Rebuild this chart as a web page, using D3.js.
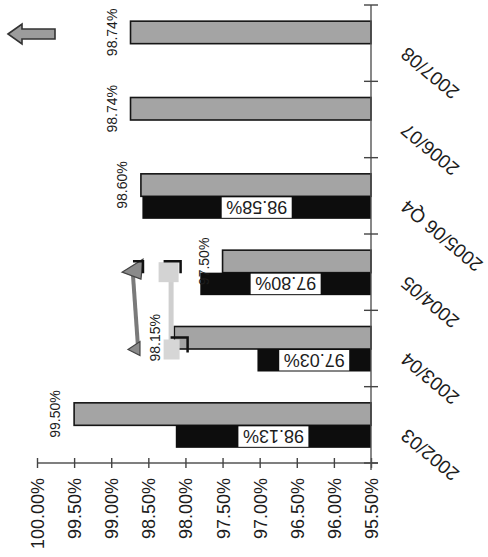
<!DOCTYPE html>
<html>
<head>
<meta charset="utf-8">
<script src="https://cdn.jsdelivr.net/npm/d3@7/dist/d3.min.js"></script>
<style>
body{margin:0;background:#fff;}
text{font-family:"Liberation Sans",Arial,sans-serif;fill:#1c1c1c;}
</style>
</head>
<body>
<div id="chart"></div>
<script>
// data (bottom category first)
var categories = ["2002/03","2003/04","2004/05","2005/06 Q4","2006/07","2007/08"];
var greyValues = [99.50, 98.15, 97.50, 98.60, 98.74, 98.74];
var greyLabels = ["99.50%","98.15%","97.50%","98.60%","98.74%","98.74%"];
var blackValues = [98.13, 97.03, 97.80, 98.58, null, null];
var blackLabels = ["98.13%","97.03%","97.80%","98.58%","",""];
var tickValues = [100, 99.5, 99, 98.5, 98, 97.5, 97, 96.5, 96, 95.5];
var tickLabels = ["100.00%","99.50%","99.00%","98.50%","98.00%","97.50%","97.00%","96.50%","96.00%","95.50%"];

function init(){
	var w = 488;
	var h = 557;

	var svg = d3.select("#chart")
				.append("svg")
				.attr("width",w)
				.attr("height",h);

	var x = d3.scaleLinear().domain([95.5,100]).range([371,37]);
	var y = d3.scaleBand().domain(categories.slice().reverse()).range([5,463]).padding(0);
	var s = d3.scaleBand().domain(["grey","black"]).range([-22,23]);

	var rows = categories.map(function(c,i){
		return {cat:c, grey:greyValues[i], gl:greyLabels[i], black:blackValues[i], bl:blackLabels[i]};
	});
	function mid(c){ return y(c) + y.bandwidth()/2; }

	// grey bars
	svg.selectAll("rect.grey")
		.data(rows)
		.enter()
		.append("rect")
		.attr("class","grey")
		.attr("x", function(d){ return x(d.grey); })
		.attr("y", function(d){ return mid(d.cat) + s("grey"); })
		.attr("width", function(d){ return x(95.5) - x(d.grey); })
		.attr("height", s.bandwidth())
		.attr("fill","#a4a4a4")
		.attr("stroke","#151515")
		.attr("stroke-width",1.6);

	// black bars
	var blk = rows.filter(function(d){ return d.black != null; });
	svg.selectAll("rect.black")
		.data(blk)
		.enter()
		.append("rect")
		.attr("class","black")
		.attr("x", function(d){ return x(d.black); })
		.attr("y", function(d){ return mid(d.cat) + s("black"); })
		.attr("width", function(d){ return x(95.5) - x(d.black); })
		.attr("height", s.bandwidth())
		.attr("fill","#0d0d0d");

	// white boxes with upside down labels inside black bars
	var bx = svg.selectAll("g.blab")
		.data(blk)
		.enter()
		.append("g")
		.attr("class","blab")
		.attr("transform", function(d){
			return "translate(" + ((x(d.black) + x(95.5))/2) + "," + (mid(d.cat) + s("black") + s.bandwidth()/2) + ")";
		});
	bx.append("rect")
		.attr("x",-35).attr("y",-s.bandwidth()/2 + 1)
		.attr("width",70).attr("height",s.bandwidth() - 2)
		.attr("fill","#fff");
	bx.append("text")
		.attr("transform","rotate(180)")
		.attr("text-anchor","middle")
		.attr("dy","0.36em")
		.style("font-size","18px")
		.text(function(d){ return d.bl; });

	// labels for grey bars
	svg.selectAll("text.glab")
		.data(rows)
		.enter()
		.append("text")
		.attr("class","glab")
		.attr("transform", function(d){
			return "translate(" + (x(d.grey) - 14) + "," + (mid(d.cat) + s("grey") + s.bandwidth()/2) + ") rotate(-90)";
		})
		.attr("text-anchor","middle")
		.style("font-size","14px")
		.text(function(d){ return d.gl; });

	// value axis
	var xAxis = svg.append("g")
		.attr("transform","translate(0,463)")
		.call(d3.axisBottom(x).tickValues(tickValues).tickFormat(function(d,i){ return tickLabels[i]; }));
	xAxis.select(".domain").attr("d","M" + x(100) + ",0H" + (x(95.5) + 7)).attr("stroke","#555").attr("stroke-width",1.4);
	xAxis.selectAll(".tick line").attr("y1",-5).attr("y2",5).attr("stroke","#444").attr("stroke-width",1.4);
	xAxis.selectAll(".tick text")
		.attr("x",-15).attr("y",0).attr("dy","0.36em")
		.attr("transform","rotate(-90)")
		.style("text-anchor","end")
		.style("font-size","18px")
		.attr("fill","#1c1c1c");

	// category axis, ticks on band edges
	var cx = x(95.5);
	svg.append("line")
		.attr("x1",cx).attr("x2",cx)
		.attr("y1",y.range()[0]).attr("y2",y.range()[1] + 7)
		.attr("stroke","#555").attr("stroke-width",1.4);
	var edges = y.domain().map(function(c){ return y(c); }).concat([y.range()[1]]);
	svg.selectAll("line.ctick")
		.data(edges)
		.enter()
		.append("line")
		.attr("x1",cx - 7).attr("x2",cx + 7)
		.attr("y1",function(d){ return d; }).attr("y2",function(d){ return d; })
		.attr("stroke","#444").attr("stroke-width",1.4);

	svg.selectAll("text.cat")
		.data(categories)
		.enter()
		.append("text")
		.attr("class","cat")
		.attr("transform", function(d){
			return "translate(" + (cx + 37) + "," + (mid(d) + 3) + ") rotate(-140)";
		})
		.attr("text-anchor","end")
		.style("font-size","19px")
		.text(function(d){ return d; });

	// hand drawn arrows between 2003/04 and 2004/05
	var ann = svg.append("g");
	var ya = mid("2004/05") - 5, yb = mid("2003/04");
	var xa = x(98.68), xb = x(98.2);
	ann.append("line")
		.attr("x1",xa + 3).attr("y1",yb - 2).attr("x2",xa - 2).attr("y2",ya + 8)
		.attr("stroke","#7a7a7a").attr("stroke-width",4);
	ann.append("path")
		.attr("d","M" + (xa - 13) + "," + (ya + 5) + "L" + (xa + 8) + "," + (ya - 8) + "L" + (xa + 6) + "," + (ya + 12) + "Z")
		.attr("fill","#8a8a8a").attr("stroke","#444").attr("stroke-width",1.2);
	ann.append("path")
		.attr("d","M" + (xa - 7) + "," + (yb + 1) + "L" + (xa + 5) + "," + (yb - 7) + "L" + (xa + 5) + "," + (yb + 7) + "Z")
		.attr("fill","#8a8a8a").attr("stroke","#444").attr("stroke-width",1.2);
	ann.append("rect")
		.attr("x",xb - 2).attr("y",ya + 14).attr("width",5).attr("height",yb - ya - 14)
		.attr("fill","#cfcfcf");
	ann.append("rect")
		.attr("x",xb - 12).attr("y",ya - 5).attr("width",20).attr("height",20)
		.attr("fill","#d3d3d3");
	ann.append("rect")
		.attr("x",xb - 7).attr("y",yb - 9).attr("width",16).attr("height",20)
		.attr("fill","#d6d6d6");
	var br = [
		[[xa - 2, ya - 6],[xa + 8, ya - 6],[xa + 8, ya + 6]],
		[[xb - 7, ya - 6],[xb + 10, ya - 6],[xb + 10, ya + 6]],
		[[xb, yb - 11],[xb + 17, yb - 11],[xb + 17, yb + 4]]
	];
	ann.selectAll("path.br")
		.data(br)
		.enter()
		.append("path")
		.attr("d", d3.line())
		.attr("fill","none").attr("stroke","#111").attr("stroke-width",2.5);

	// arrow in the top left corner
	svg.append("path")
		.attr("d","M8,34L22,24V29H55V39H22V44Z")
		.attr("fill","#9c9c9c").attr("stroke","#333").attr("stroke-width",1.6);
}
window.onload = init;
</script>
</body>
</html>
